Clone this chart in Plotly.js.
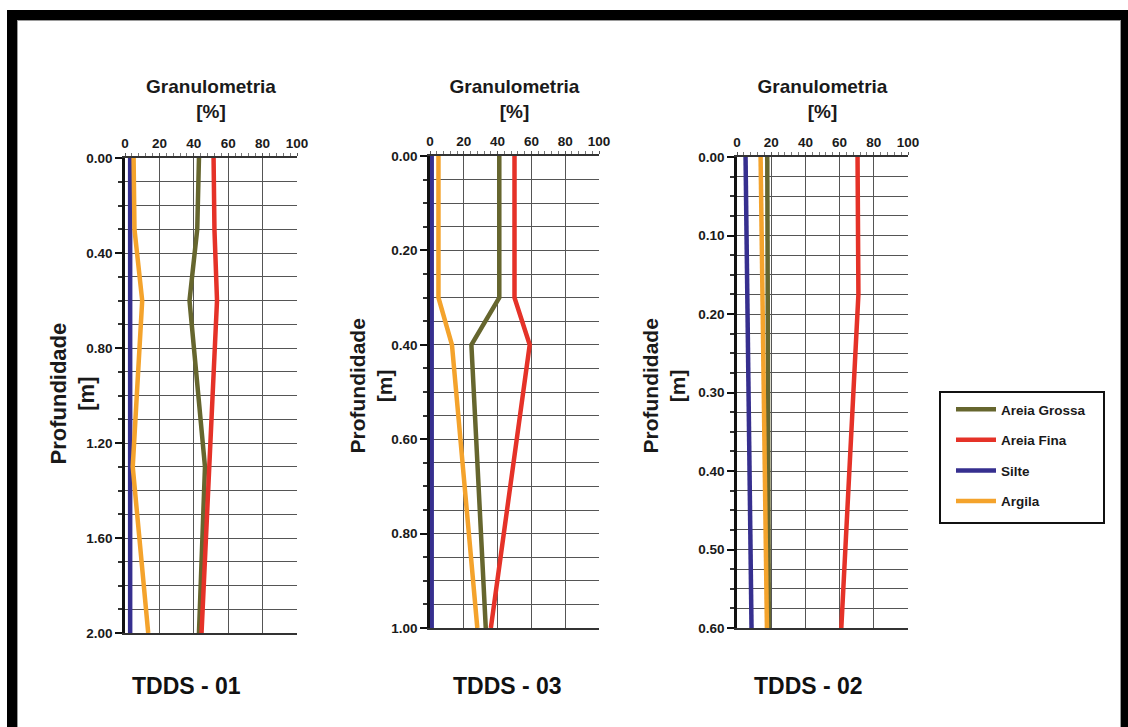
<!DOCTYPE html>
<html>
<head>
<meta charset="utf-8">
<script src="https://cdn.plot.ly/plotly-3.0.1.min.js"></script>
<style>
  html, body { margin: 0; padding: 0; background: #fff; overflow: hidden; }
  #chart { width: 1128px; height: 727px; }
  #frame { position: absolute; left: 7px; top: 10px; width: 1124px; height: 740px;
           box-sizing: border-box; border: 10px solid #000; box-shadow: inset 0 0 0 1px #9a9a9a;
           pointer-events: none; }
</style>
</head>
<body>
<div id="chart"></div>
<div id="frame"></div>
<script>
// ---- Data ----
var seriesNames = ['Areia Grossa', 'Areia Fina', 'Silte', 'Argila'];
var panelNames = ['TDDS - 01', 'TDDS - 03', 'TDDS - 02'];
var xTitle = 'Granulometria<br>[%]';
var yTitle = 'Profundidade<br>[m]';

// TDDS - 01
var depth01 = [0, 0.3, 0.6, 1.3, 2.0];
var grossa01 = [43, 42, 37.5, 46.5, 43];
var fina01 = [51.5, 52, 53.5, 49, 44.5];
var silte01 = [3, 3, 3, 3, 3];
var argila01 = [5, 5.5, 10, 4.5, 13.5];

// TDDS - 03
var depth03 = [0, 0.3, 0.4, 1.0];
var grossa03 = [41, 41, 24.5, 33];
var fina03 = [50, 50, 59, 36];
var silte03 = [1, 1, 1, 1];
var argila03 = [5, 5, 13, 28];

// TDDS - 02
var depth02 = [0, 0.175, 0.6];
var grossa02 = [17.7, 18, 18.6];
var fina02 = [70.5, 71, 61];
var silte02 = [5, 6.2, 8.5];
var argila02 = [13.8, 14.8, 17.5];

var depthMax = [2.0, 1.0, 0.6];
var depthTick = [0.4, 0.2, 0.1];
var depthMinor = [0.1, 0.05, 0.025];

// ---- Styles ----
var colors = ['#66662e', '#e53228', '#362f8f', '#f4a32c'];
var FONT = '"Liberation Sans", Arial, sans-serif';

var panels = [
  {d: depth01, v: [grossa01, fina01, silte01, argila01]},
  {d: depth03, v: [grossa03, fina03, silte03, argila03]},
  {d: depth02, v: [grossa02, fina02, silte02, argila02]}
];

var traces = [];
panels.forEach(function (p, pi) {
  var sfx = pi === 0 ? '' : String(pi + 1);
  p.v.forEach(function (vals, si) {
    traces.push({
      type: 'scatter', mode: 'lines',
      x: vals, y: p.d,
      xaxis: 'x' + sfx, yaxis: 'y' + sfx,
      name: seriesNames[si],
      legendgroup: seriesNames[si],
      showlegend: pi === 0,
      line: {color: colors[si], width: 4.5},
      hoverinfo: 'x+y+name'
    });
  });
});

var xDomains = [[125/1128, 297/1128], [430/1128, 599/1128], [737/1128, 908/1128]];
var yDomains = [[1 - 633/727, 1 - 158/727], [1 - 628/727, 1 - 156/727], [1 - 628/727, 1 - 157/727]];
var xStandoff = [12, 10, 11.5];
var yTitlePos = [[72.5, 394], [370.5, 386], [663.5, 386]];

var layout = {
  width: 1128, height: 727,
  margin: {l: 0, r: 0, t: 0, b: 0},
  paper_bgcolor: '#fff', plot_bgcolor: '#fff',
  font: {family: FONT, color: '#1a1a1a', size: 13, weight: 'bold'},
  showlegend: true,
  legend: {
    x: 951/1128, y: 1 - 394/727, xanchor: 'left', yanchor: 'top',
    bgcolor: 'rgba(0,0,0,0)', borderwidth: 0,
    font: {family: FONT, size: 13.5, color: '#1a1a1a', weight: 'bold'},
    tracegroupgap: 10, traceorder: 'grouped', itemwidth: 40
  },
  shapes: [{
    type: 'rect', xref: 'paper', yref: 'paper',
    x0: 940/1128, x1: 1104/1128, y0: 1 - 523/727, y1: 1 - 392/727,
    line: {color: '#111', width: 2}, fillcolor: 'rgba(0,0,0,0)'
  }],
  annotations: []
};

panels.forEach(function (p, pi) {
  var sfx = pi === 0 ? '' : String(pi + 1);
  var xa = {
    domain: xDomains[pi], anchor: 'y' + sfx, side: 'top',
    range: [0, 100], dtick: 20, tick0: 0,
    ticks: 'outside', ticklen: 3, tickcolor: '#555',
    tickfont: {family: FONT, size: 13.5, weight: 'bold', color: '#1a1a1a'},
    showgrid: true, gridcolor: '#555', gridwidth: 1,
    showline: true, mirror: true, linecolor: '#333', linewidth: 1.5,
    zeroline: false, fixedrange: true,
    minor: {dtick: 4, ticks: 'outside', ticklen: 3, tickcolor: '#777', showgrid: false},
    title: {text: xTitle, standoff: xStandoff[pi],
            font: {family: FONT, size: 19, weight: 'bold', color: '#1a1a1a'}}
  };
  var ya = {
    domain: yDomains[pi], anchor: 'x' + sfx,
    range: [depthMax[pi], 0], dtick: depthTick[pi], tick0: 0,
    tickformat: '.2f',
    ticks: 'outside', ticklen: 7, tickcolor: '#111', tickwidth: 1.5,
    tickfont: {family: FONT, size: 13.5, weight: 'bold', color: '#1a1a1a'},
    showgrid: true, gridcolor: '#555', gridwidth: 1,
    showline: true, linecolor: '#111', linewidth: 2.5, mirror: false,
    zeroline: false, fixedrange: true,
    minor: {dtick: depthMinor[pi], ticks: 'outside', ticklen: 4, tickcolor: '#333',
            showgrid: true, gridcolor: '#555', gridwidth: 1}
  };
  layout['xaxis' + sfx] = xa;
  layout['yaxis' + sfx] = ya;

  // depth-axis title (rotated annotation so it can sit close to the tick labels)
  layout.annotations.push({
    text: yTitle, xref: 'paper', yref: 'paper',
    x: yTitlePos[pi][0] / 1128, y: 1 - yTitlePos[pi][1] / 727,
    xanchor: 'center', yanchor: 'middle', textangle: -90, showarrow: false,
    font: {family: FONT, size: pi === 0 ? 22 : 21, weight: 'bold', color: '#1a1a1a'}
  });
});

var labelX = [186, 507, 808];
panelNames.forEach(function (n, i) {
  layout.annotations.push({
    text: n, xref: 'paper', yref: 'paper',
    x: labelX[i] / 1128, y: 1 - 686/727, xanchor: 'center', yanchor: 'middle',
    showarrow: false,
    font: {family: FONT, size: 23, weight: 'bold', color: '#111'}
  });
});

Plotly.newPlot('chart', traces, layout, {displayModeBar: false});
</script>
</body>
</html>
